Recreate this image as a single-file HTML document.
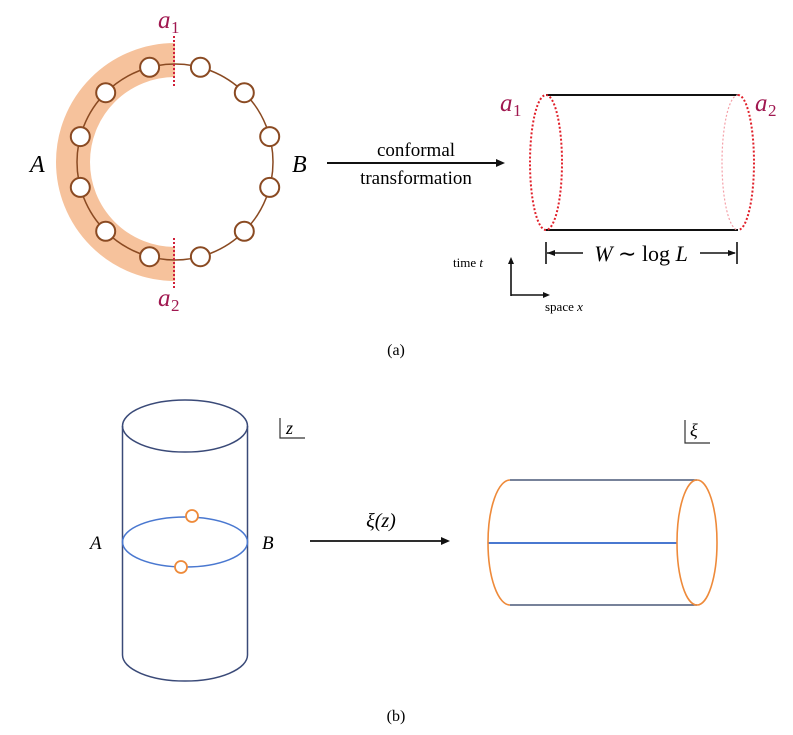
<!DOCTYPE html>
<html><head><meta charset="utf-8"><style>
html,body{margin:0;padding:0;background:#fff;}
svg{display:block;}
.serif{font-family:"Liberation Serif",serif;}
</style></head><body>
<svg width="793" height="735" viewBox="0 0 793 735" xmlns="http://www.w3.org/2000/svg" class="serif">
<path d="M175,60 A102,102 0 0 0 175,264" fill="none" stroke="#f6c29c" stroke-width="34"/>
<circle cx="175" cy="162" r="98" fill="none" stroke="#8a4a22" stroke-width="1.5"/>
<g fill="#fff" stroke="#8a4a22" stroke-width="2">
<circle cx="149.6" cy="67.3" r="9.5"/><circle cx="200.4" cy="67.3" r="9.5"/>
<circle cx="244.3" cy="92.7" r="9.5"/><circle cx="269.7" cy="136.6" r="9.5"/>
<circle cx="269.7" cy="187.4" r="9.5"/><circle cx="244.3" cy="231.3" r="9.5"/>
<circle cx="200.4" cy="256.7" r="9.5"/><circle cx="149.6" cy="256.7" r="9.5"/>
<circle cx="105.7" cy="231.3" r="9.5"/><circle cx="80.3" cy="187.4" r="9.5"/>
<circle cx="80.3" cy="136.6" r="9.5"/><circle cx="105.7" cy="92.7" r="9.5"/>
</g>
<g stroke="#d0203a" stroke-width="2" stroke-dasharray="2,2">
<line x1="174" y1="36" x2="174" y2="86"/><line x1="174" y1="238" x2="174" y2="288"/>
</g>
<g fill="#a01850" font-style="italic" font-size="25">
<text x="158" y="28">a</text><text x="171" y="33" font-style="normal" font-size="17">1</text>
<text x="158" y="306">a</text><text x="171" y="311" font-style="normal" font-size="17">2</text>
<text x="500" y="111">a</text><text x="513" y="116" font-style="normal" font-size="17">1</text>
<text x="755" y="111">a</text><text x="768" y="116" font-style="normal" font-size="17">2</text>
</g>
<text x="30" y="172" font-size="24" font-style="italic">A</text>
<text x="292" y="172" font-size="24" font-style="italic">B</text>
<line x1="327" y1="163" x2="498" y2="163" stroke="#111" stroke-width="2"/>
<polygon points="505,163 496,159 496,167" fill="#111"/>
<text x="416" y="156" font-size="19" text-anchor="middle">conformal</text>
<text x="416" y="184" font-size="19" text-anchor="middle">transformation</text>
<line x1="546" y1="95" x2="738" y2="95" stroke="#111" stroke-width="2"/>
<line x1="546" y1="230" x2="738" y2="230" stroke="#111" stroke-width="2"/>
<ellipse cx="546" cy="162.5" rx="16" ry="67.5" fill="none" stroke="#e0202a" stroke-width="2" stroke-dasharray="2,2"/>
<path d="M738,95 A16,67.5 0 0 1 738,230" fill="none" stroke="#e0202a" stroke-width="2" stroke-dasharray="2,2"/>
<path d="M738,95 A16,67.5 0 0 0 738,230" fill="none" stroke="#f4a0a8" stroke-width="1.2" stroke-dasharray="2,2"/>
<g stroke="#111" stroke-width="1.6">
<line x1="546" y1="242" x2="546" y2="264"/><line x1="737" y1="242" x2="737" y2="264"/>
<line x1="547" y1="253" x2="583" y2="253"/><line x1="700" y1="253" x2="735" y2="253"/>
</g>
<polygon points="547,253 555,250 555,256" fill="#111"/><polygon points="736,253 728,250 728,256" fill="#111"/>
<text x="641" y="261" font-size="22" text-anchor="middle"><tspan font-style="italic">W</tspan> ∼ log <tspan font-style="italic">L</tspan></text>
<g stroke="#111" stroke-width="1.6" fill="none">
<line x1="511" y1="296" x2="511" y2="262"/><line x1="511" y1="295" x2="545" y2="295"/>
</g>
<polygon points="511,257 508,264 514,264" fill="#111"/><polygon points="550,295 543,292 543,298" fill="#111"/>
<text x="453" y="267" font-size="13">time <tspan font-style="italic">t</tspan></text>
<text x="545" y="311" font-size="13">space <tspan font-style="italic">x</tspan></text>
<text x="396" y="355" font-size="16" text-anchor="middle">(a)</text>
<g fill="none" stroke="#3a4a78" stroke-width="1.5">
<ellipse cx="185" cy="426" rx="62.5" ry="26"/>
<line x1="122.5" y1="426" x2="122.5" y2="655"/><line x1="247.5" y1="426" x2="247.5" y2="655"/>
<path d="M122.5,655 A62.5,26 0 0 0 247.5,655"/>
</g>
<ellipse cx="185" cy="542" rx="62.5" ry="25" fill="none" stroke="#4a78d0" stroke-width="1.5"/>
<circle cx="192" cy="516" r="6" fill="#fff" stroke="#ee8a3a" stroke-width="1.8"/>
<circle cx="181" cy="567" r="6" fill="#fff" stroke="#ee8a3a" stroke-width="1.8"/>
<text x="90" y="549" font-size="19" font-style="italic">A</text>
<text x="262" y="549" font-size="19" font-style="italic">B</text>
<path d="M280,418 V438 H305" fill="none" stroke="#333" stroke-width="1.2"/>
<text x="286" y="434" font-size="18" font-style="italic">z</text>
<line x1="310" y1="541" x2="442" y2="541" stroke="#111" stroke-width="1.8"/>
<polygon points="450,541 441,537 441,545" fill="#111"/>
<text x="381" y="527" font-size="20" text-anchor="middle" font-style="italic">ξ(z)</text>
<g stroke="#4a5878" stroke-width="1.6">
<line x1="510" y1="480" x2="697" y2="480"/><line x1="510" y1="605" x2="697" y2="605"/>
</g>
<line x1="488" y1="543" x2="677" y2="543" stroke="#4a78d0" stroke-width="2"/>
<path d="M510,480 A22,62.5 0 0 0 510,605" fill="none" stroke="#ee8a3a" stroke-width="1.6"/>
<ellipse cx="697" cy="542.5" rx="20" ry="62.5" fill="none" stroke="#ee8a3a" stroke-width="1.6"/>
<path d="M685,420 V443 H710" fill="none" stroke="#333" stroke-width="1.2"/>
<text x="690" y="436" font-size="18" font-style="italic">ξ</text>
<text x="396" y="721" font-size="16" text-anchor="middle">(b)</text>
</svg>
</body></html>
